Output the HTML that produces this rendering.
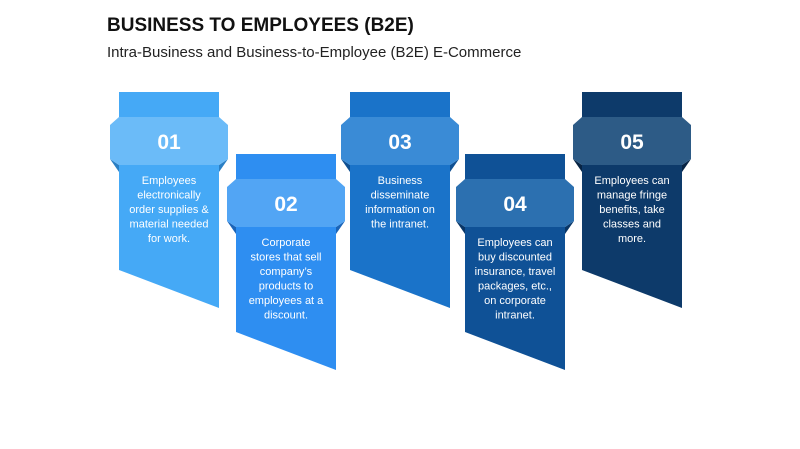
<!DOCTYPE html>
<html><head><meta charset="utf-8"><style>
body{margin:0;width:800px;height:444px;background:#fff;overflow:hidden;font-family:"Liberation Sans",sans-serif}
</style></head><body>
<svg width="800" height="444" xmlns="http://www.w3.org/2000/svg" font-family="Liberation Sans, sans-serif">
<text x="107" y="31" font-size="19" font-weight="bold" fill="#111">BUSINESS TO EMPLOYEES (B2E)</text>
<text x="107" y="57" font-size="15" fill="#222">Intra-Business and Business-to-Employee (B2E) E-Commerce</text>
<defs>
<g id="shape">
</g>
</defs>
<!-- card template via groups -->
<g transform="translate(119,92)">
<polygon points="0,0 100,0 100,216 0,178" fill="#45a9f6"/>
<polygon points="0,73 -9,67 0,80" fill="#2a7fc4"/><polygon points="100,73 109,67 100,80" fill="#2a7fc4"/>
<polygon points="0,25 100,25 109,33 109,67 100,73 0,73 -9,67 -9,33" fill="#6bbbf8"/>
<text x="50" y="57" font-size="21" font-weight="bold" fill="#fff" text-anchor="middle">01</text>
<g font-size="11" fill="#fff" text-anchor="middle"><text x="50" y="92">Employees</text><text x="50" y="106.5">electronically</text><text x="50" y="121">order supplies &amp;</text><text x="50" y="135.5">material needed</text><text x="50" y="150">for work.</text></g>
</g>
<g transform="translate(236,154)">
<polygon points="0,0 100,0 100,216 0,178" fill="#2e8ef1"/>
<polygon points="0,73 -9,67 0,80" fill="#1a64b8"/><polygon points="100,73 109,67 100,80" fill="#1a64b8"/>
<polygon points="0,25 100,25 109,33 109,67 100,73 0,73 -9,67 -9,33" fill="#52a5f4"/>
<text x="50" y="57" font-size="21" font-weight="bold" fill="#fff" text-anchor="middle">02</text>
<g font-size="11" fill="#fff" text-anchor="middle"><text x="50" y="92">Corporate</text><text x="50" y="106.5">stores that sell</text><text x="50" y="121">company’s</text><text x="50" y="135.5">products to</text><text x="50" y="150">employees at a</text><text x="50" y="164.5">discount.</text></g>
</g>
<g transform="translate(350,92)">
<polygon points="0,0 100,0 100,216 0,178" fill="#1a73c9"/>
<polygon points="0,73 -9,67 0,80" fill="#0e4f92"/><polygon points="100,73 109,67 100,80" fill="#0e4f92"/>
<polygon points="0,25 100,25 109,33 109,67 100,73 0,73 -9,67 -9,33" fill="#3a8bd6"/>
<text x="50" y="57" font-size="21" font-weight="bold" fill="#fff" text-anchor="middle">03</text>
<g font-size="11" fill="#fff" text-anchor="middle"><text x="50" y="92">Business</text><text x="50" y="106.5">disseminate</text><text x="50" y="121">information on</text><text x="50" y="135.5">the intranet.</text></g>
</g>
<g transform="translate(465,154)">
<polygon points="0,0 100,0 100,216 0,178" fill="#0f5196"/>
<polygon points="0,73 -9,67 0,80" fill="#093667"/><polygon points="100,73 109,67 100,80" fill="#093667"/>
<polygon points="0,25 100,25 109,33 109,67 100,73 0,73 -9,67 -9,33" fill="#2c70b0"/>
<text x="50" y="57" font-size="21" font-weight="bold" fill="#fff" text-anchor="middle">04</text>
<g font-size="11" fill="#fff" text-anchor="middle"><text x="50" y="92">Employees can</text><text x="50" y="106.5">buy discounted</text><text x="50" y="121">insurance, travel</text><text x="50" y="135.5">packages, etc.,</text><text x="50" y="150">on corporate</text><text x="50" y="164.5">intranet.</text></g>
</g>
<g transform="translate(582,92)">
<polygon points="0,0 100,0 100,216 0,178" fill="#0d3a6a"/>
<polygon points="0,73 -9,67 0,80" fill="#072444"/><polygon points="100,73 109,67 100,80" fill="#072444"/>
<polygon points="0,25 100,25 109,33 109,67 100,73 0,73 -9,67 -9,33" fill="#2d5b86"/>
<text x="50" y="57" font-size="21" font-weight="bold" fill="#fff" text-anchor="middle">05</text>
<g font-size="11" fill="#fff" text-anchor="middle"><text x="50" y="92">Employees can</text><text x="50" y="106.5">manage fringe</text><text x="50" y="121">benefits, take</text><text x="50" y="135.5">classes and</text><text x="50" y="150">more.</text></g>
</g>
</svg>
</body></html>
